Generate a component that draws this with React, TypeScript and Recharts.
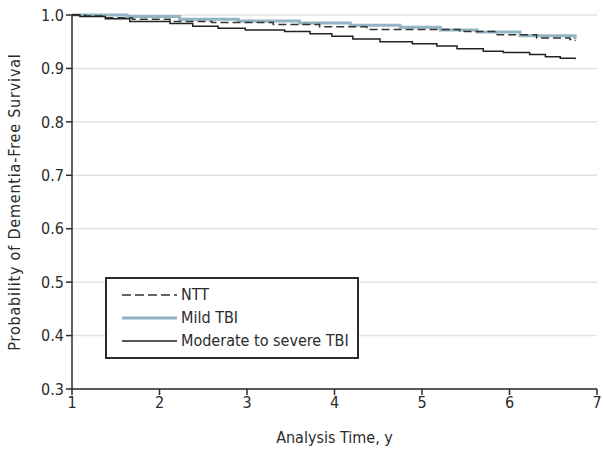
import React from 'react';
import {
  LineChart,
  Line,
  XAxis,
  YAxis,
  CartesianGrid,
} from 'recharts';

// Kaplan-Meier step curves: follow-up time (years) and survival probability
const nttTime = [1, 1.15, 1.38, 1.69, 2.12, 2.6, 3.3, 3.83, 4.37, 5.43, 5.86, 6.31, 6.69, 6.75];
const nttSurv = [1.0, 0.998, 0.995, 0.992, 0.988, 0.986, 0.982, 0.978, 0.973, 0.969, 0.963, 0.957, 0.954, 0.952];

const mildTime = [1, 1.63, 2.23, 2.9, 3.6, 4.18, 4.75, 5.21, 5.63, 6.12, 6.75];
const mildSurv = [1.0, 0.997, 0.992, 0.989, 0.985, 0.981, 0.977, 0.972, 0.968, 0.961, 0.955];

const modTime = [1, 1.09, 1.38, 1.66, 2.12, 2.38, 2.67, 2.98, 3.43, 3.72, 3.97, 4.21, 4.52, 4.89, 5.17, 5.4, 5.7, 5.93, 6.23, 6.41, 6.58, 6.75];
const modSurv = [1.0, 0.997, 0.993, 0.988, 0.984, 0.979, 0.975, 0.972, 0.969, 0.965, 0.96, 0.955, 0.95, 0.946, 0.942, 0.937, 0.932, 0.93, 0.926, 0.922, 0.919, 0.917];

const xTicks = [1, 2, 3, 4, 5, 6, 7];
const yTicks = [0.3, 0.4, 0.5, 0.6, 0.7, 0.8, 0.9, 1.0];

const toPoints = (t: number[], s: number[]) => t.map((time, i) => ({ time, surv: s[i] }));

const font = '"DejaVu Sans Condensed", "DejaVu Sans", sans-serif';
const ink = '#2b2b2b';
const textStyle = { fontStretch: 'condensed' as const };

const legendItems = [
  { label: 'NTT', color: '#333', width: 1.5, dash: '9 4' },
  { label: 'Mild TBI', color: '#93b4c2', width: 3, dash: undefined },
  { label: 'Moderate to severe TBI', color: '#222', width: 1.5, dash: undefined },
];

const LegendBox = () => (
  <div
    style={{
      position: 'absolute',
      left: 105,
      top: 277,
      border: `2px solid ${ink}`,
      width: 254,
      height: 82,
      boxSizing: 'border-box',
      padding: '4px 0 0 15px',
      background: '#fff',
    }}
  >
    {legendItems.map((it) => (
      <div key={it.label} style={{ display: 'flex', alignItems: 'center', height: 23 }}>
        <svg width={55} height={6} style={{ marginRight: 4 }}>
          <line x1={0} y1={3} x2={55} y2={3} stroke={it.color} strokeWidth={it.width} strokeDasharray={it.dash} />
        </svg>
        <span style={{ fontFamily: font, fontSize: 16, color: ink, fontStretch: 'condensed' }}>{it.label}</span>
      </div>
    ))}
  </div>
);

export default function App() {
  return (
    <div style={{ position: 'absolute', left: 0, top: 0, width: 603, height: 452, background: '#fff' }}>
      <LineChart width={603} height={452} margin={{ top: 15, right: 6, bottom: 33, left: 0 }}>
        <CartesianGrid vertical={false} stroke="#e2e2e2" strokeWidth={1.5} />
        <XAxis
          dataKey="time"
          type="number"
          domain={[1, 7]}
          ticks={xTicks}
          allowDuplicatedCategory={false}
          height={30}
          stroke={ink}
          strokeWidth={1.5}
          tickSize={6}
          tick={{ fill: ink, fontSize: 16, fontFamily: font, style: textStyle }}
          label={{ value: 'Analysis Time, y', position: 'insideBottom', offset: -24, fill: ink, fontSize: 16, fontFamily: font, style: textStyle }}
        />
        <YAxis
          dataKey="surv"
          type="number"
          domain={[0.3, 1.0]}
          ticks={yTicks}
          width={72}
          stroke={ink}
          strokeWidth={1.5}
          tickSize={6}
          tickFormatter={(v: number) => v.toFixed(1)}
          tick={{ fill: ink, fontSize: 16, fontFamily: font, style: textStyle }}
          label={{ value: 'Probability of Dementia-Free Survival', angle: -90, position: 'insideLeft', offset: 14, fill: ink, fontSize: 16, fontFamily: font, style: { ...textStyle, textAnchor: 'middle', letterSpacing: 0.8 } }}
        />
        <Line data={toPoints(mildTime, mildSurv)} dataKey="surv" type="stepAfter" stroke="#93b4c2" strokeWidth={3} dot={false} isAnimationActive={false} />
        <Line data={toPoints(nttTime, nttSurv)} dataKey="surv" type="stepAfter" stroke="#333" strokeWidth={1.5} strokeDasharray="8 4" dot={false} isAnimationActive={false} />
        <Line data={toPoints(modTime, modSurv)} dataKey="surv" type="stepAfter" stroke="#222" strokeWidth={1.5} dot={false} isAnimationActive={false} />
      </LineChart>
      <LegendBox />
    </div>
  );
}
